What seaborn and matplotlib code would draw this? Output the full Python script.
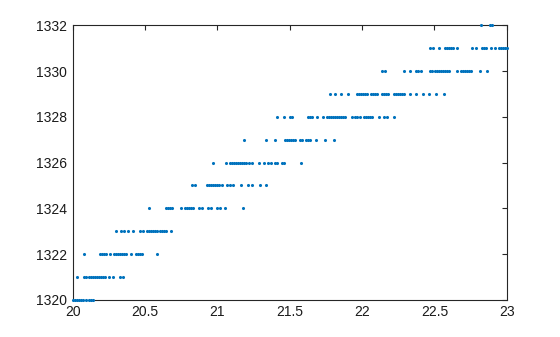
import matplotlib
matplotlib.use("Agg")
import matplotlib.pyplot as plt
import seaborn as sns
import pandas as pd

# x positions of the points on each integer level
x_1320 = [20.000, 20.014, 20.028, 20.041, 20.055, 20.069, 20.090, 20.111, 20.124, 20.138]
x_1321 = [20.028, 20.076, 20.090, 20.111, 20.124, 20.138, 20.152, 20.166, 20.180, 20.194,
          20.207, 20.221, 20.249, 20.276, 20.325, 20.346]
x_1322 = [20.076, 20.187, 20.200, 20.214, 20.228, 20.256, 20.283, 20.297, 20.311, 20.325,
          20.339, 20.353, 20.366, 20.401, 20.435, 20.449, 20.463, 20.477, 20.581]
x_1323 = [20.297, 20.332, 20.353, 20.380, 20.415, 20.463, 20.484, 20.511, 20.525, 20.539,
          20.553, 20.567, 20.581, 20.601, 20.615, 20.629, 20.643, 20.677]
x_1324 = [20.525, 20.643, 20.657, 20.670, 20.684, 20.746, 20.774, 20.788, 20.802, 20.816,
          20.829, 20.871, 20.892, 20.933, 20.954, 20.995, 21.016, 21.051, 21.175]
x_1325 = [20.823, 20.843, 20.926, 20.940, 20.954, 20.968, 20.982, 20.995, 21.009, 21.030,
          21.064, 21.085, 21.106, 21.161, 21.210, 21.237, 21.293, 21.334]
x_1326 = [20.968, 21.058, 21.085, 21.099, 21.113, 21.127, 21.140, 21.154, 21.168, 21.182,
          21.196, 21.217, 21.237, 21.286, 21.320, 21.348, 21.369, 21.396, 21.410, 21.445,
          21.458, 21.576]
x_1327 = [21.182, 21.334, 21.396, 21.465, 21.479, 21.493, 21.507, 21.521, 21.534, 21.569,
          21.583, 21.610, 21.624, 21.638, 21.680, 21.742, 21.804]
x_1328 = [21.410, 21.458, 21.500, 21.514, 21.624, 21.638, 21.652, 21.687, 21.728, 21.756,
          21.769, 21.783, 21.797, 21.811, 21.825, 21.839, 21.852, 21.866, 21.880, 21.928,
          21.949, 21.963, 21.984, 22.011, 22.025, 22.039, 22.053, 22.067, 22.115, 22.150,
          22.170, 22.219]
x_1329 = [21.776, 21.811, 21.852, 21.901, 21.963, 21.977, 21.991, 22.004, 22.018, 22.032,
          22.060, 22.074, 22.087, 22.101, 22.136, 22.150, 22.163, 22.177, 22.219, 22.233,
          22.246, 22.260, 22.274, 22.288, 22.329, 22.371, 22.419, 22.461, 22.509, 22.564]
x_1330 = [22.136, 22.157, 22.288, 22.329, 22.371, 22.385, 22.405, 22.468, 22.481, 22.502,
          22.516, 22.530, 22.544, 22.557, 22.571, 22.585, 22.599, 22.654, 22.682, 22.696,
          22.710, 22.723, 22.737, 22.751, 22.813, 22.862]
x_1331 = [22.468, 22.488, 22.530, 22.571, 22.585, 22.599, 22.613, 22.627, 22.654, 22.758,
          22.786, 22.827, 22.841, 22.855, 22.889, 22.917, 22.945, 22.958, 22.972, 22.986,
          23.000]
x_1332 = [22.820, 22.882, 22.896]

levels = [1320, 1321, 1322, 1323, 1324, 1325, 1326, 1327, 1328, 1329, 1330, 1331, 1332]
rows_x = [x_1320, x_1321, x_1322, x_1323, x_1324, x_1325, x_1326, x_1327, x_1328,
          x_1329, x_1330, x_1331, x_1332]

x_ticks = [20, 20.5, 21, 21.5, 22, 22.5, 23]
x_tick_labels = ["20", "20.5", "21", "21.5", "22", "22.5", "23"]
y_ticks = [1320, 1322, 1324, 1326, 1328, 1330, 1332]
y_tick_labels = ["1320", "1322", "1324", "1326", "1328", "1330", "1332"]

frames = [pd.DataFrame({"x": xs, "y": [lv] * len(xs)}) for lv, xs in zip(levels, rows_x)]
df = pd.concat(frames, ignore_index=True)

sns.set_style("white")
plt.rcParams["font.family"] = ["Liberation Sans", "DejaVu Sans"]

fig = plt.figure(figsize=(5.6, 3.37), dpi=100)
ax = fig.add_axes([0.13, 0.11, 0.775, 0.815])

sns.scatterplot(data=df, x="x", y="y", ax=ax, s=5, color="#0072BD",
                linewidth=0, marker="o", clip_on=False, legend=False, zorder=5)

ax.set_xlim(20, 23)
ax.set_ylim(1320, 1332)
ax.set_xticks(x_ticks)
ax.set_xticklabels(x_tick_labels)
ax.set_yticks(y_ticks)
ax.set_yticklabels(y_tick_labels)
ax.set_xlabel("")
ax.set_ylabel("")

for sp in ax.spines.values():
    sp.set_visible(True)
    sp.set_color("#262626")
    sp.set_linewidth(0.8)

ax.tick_params(direction="in", top=True, right=True, length=3.5, width=0.8,
               color="#262626", labelcolor="#1a1a1a", labelsize=10)
ax.tick_params(axis="x", pad=4)
ax.tick_params(axis="y", pad=4)

fig.savefig("out.png", dpi=100)
